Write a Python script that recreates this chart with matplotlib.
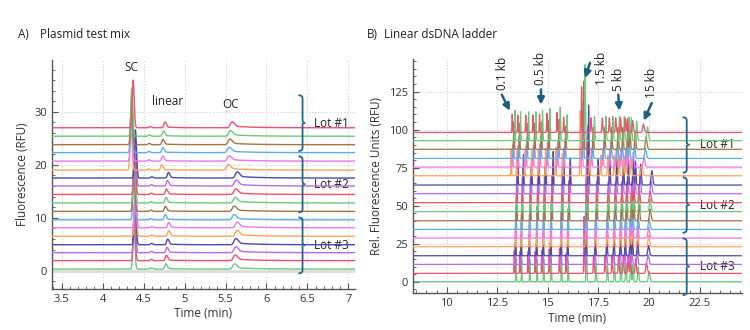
import numpy as np
import matplotlib
matplotlib.use("Agg")
import matplotlib.pyplot as plt
from matplotlib.ticker import MultipleLocator, FuncFormatter
from matplotlib.path import Path
from matplotlib.patches import PathPatch

plt.rcParams['font.family'] = ['Open Sans', 'DejaVu Sans']

# colour cycle of the runs, bottom trace first
PALETTE = ['#6cc97a', '#f0506e', '#b86ae6', '#4b4aa8',
           '#ffa25c', '#f075ee', '#5ab0e4', '#a6743e']
BRACE_COLOR = '#23638c'
ARROW_COLOR = '#1b5e7e'

# ---------------- Panel A: plasmid test mix (18 runs, bottom to top) ----------------
a_baseline = [0.3, 1.9, 3.4, 4.9, 6.5, 8.1, 9.6, 11.2, 12.8,
              14.4, 16.0, 17.5, 19.0, 20.7, 22.3, 23.8, 25.4, 27.0]
a_sc_time = [4.380, 4.385, 4.390, 4.395, 4.400, 4.400, 4.380, 4.380, 4.385,
             4.390, 4.395, 4.400, 4.345, 4.350, 4.350, 4.352, 4.355, 4.372]
a_sc_height = [9.0, 9.2, 8.8, 9.1, 8.9, 9.3, 9.0, 8.7, 9.2,
               9.0, 8.8, 9.1, 8.6, 8.9, 9.0, 9.2, 9.1, 9.0]
a_lin_time = [4.770, 4.777, 4.785, 4.793, 4.806, 4.806, 4.762, 4.765, 4.772,
              4.777, 4.790, 4.802, 4.721, 4.733, 4.733, 4.735, 4.741, 4.761]
a_lin_height = [1.0, 1.0, 1.0, 1.05, 1.05, 1.0, 0.95, 0.95, 1.0,
                1.0, 1.0, 1.05, 1.0, 0.95, 0.95, 1.0, 1.0, 1.1]
a_oc_time = [5.605, 5.612, 5.620, 5.620, 5.637, 5.637, 5.600, 5.600, 5.612,
             5.620, 5.625, 5.637, 5.530, 5.540, 5.540, 5.548, 5.555, 5.575]
a_oc_height = [0.95, 1.0, 1.05, 1.1, 1.05, 1.0, 0.95, 0.95, 1.0,
               1.0, 1.05, 1.1, 1.0, 0.95, 0.95, 1.0, 1.0, 1.05]
a_minor_time = [4.590, 4.592, 4.595, 4.598, 4.600, 4.600, 4.588, 4.588, 4.590,
                4.592, 4.595, 4.600, 4.560, 4.565, 4.565, 4.568, 4.570, 4.580]
a_minor_height = [0.25] * 18

# ---------------- Panel B: linear dsDNA ladder (18 runs, bottom to top) ----------------
b_baseline = [0.0, 5.5, 11.4, 17.1, 23.0, 28.7, 34.4, 40.1, 46.1,
              52.0, 57.9, 63.6, 69.7, 75.4, 81.1, 87.1, 92.8, 98.2]
# ladder fragment migration times of the bottom run
b_ladder_time = [13.43, 13.71, 14.11, 14.47, 14.80, 15.17, 15.68, 16.01, 16.91,
                 17.38, 17.95, 18.30, 18.62, 18.86, 19.10, 19.21, 19.47, 20.01]
b_ladder_rel = [1.0, 0.95, 0.95, 0.95, 1.0, 1.05, 1.1, 0.85, 2.5,
                0.8, 0.8, 0.8, 0.8, 0.8, 0.78, 0.75, 0.65, 0.45]
b_ladder_sigma = [0.012, 0.012, 0.012, 0.012, 0.013, 0.013, 0.014, 0.014, 0.016,
                  0.017, 0.018, 0.018, 0.019, 0.019, 0.020, 0.020, 0.024, 0.035]
# 15 kb migration time of each run (sets the run's time scale)
b_last_time = [20.00, 19.87, 19.95, 19.97, 19.98, 19.98, 20.00, 20.05, 20.05,
               20.05, 20.10, 20.13, 19.64, 19.75, 19.82, 19.85, 19.92, 19.72]
b_run_height = [15, 15, 14, 15, 17, 16, 16, 17, 18,
                17, 18, 21, 17, 15, 15, 18, 20, 12]

b_marker_labels = ['0.1 kb', '0.5 kb', '1.5 kb', '5 kb', '15 kb']
b_marker_text_xy = [(12.77, 137), (14.63, 140), (17.65, 140), (18.50, 133), (20.12, 131)]
b_marker_arrow_from = [(12.72, 123), (14.66, 126.5), (17.08, 144), (18.48, 123), (20.13, 117.5)]
b_marker_arrow_to = [(13.12, 112.5), (14.66, 116.5), (16.84, 134), (18.53, 112.5), (19.74, 106)]

lot_labels = ['Lot #1', 'Lot #2', 'Lot #3']
a_lot_span = [(33.15, 22.6), (21.6, 11.0), (10.05, -0.5)]
b_lot_span = [(108.2, 71.7), (68.7, 32.2), (28.5, -8.8)]


def gauss(t, mu, h, sl, sr):
    s = np.where(t < mu, sl, sr)
    return h * np.exp(-0.5 * ((t - mu) / s) ** 2)


def tailed(t, mu, h, sl, sr, tail_h, tau):
    y = gauss(t, mu, h, sl, sr)
    dt = np.clip(t - mu, 0, None)
    y = y + tail_h * h * (1 - np.exp(-dt / 0.02)) * np.exp(-dt / tau)
    return y


def draw_brace(ax, x, top, bottom, dx, dy, notch):
    mid = 0.5 * (top + bottom)
    verts = [(x - dx, top), (x, top), (x, top - dy),
             (x, mid + dy), (x, mid), (x + notch, mid),
             (x, mid), (x, mid - dy),
             (x, bottom + dy), (x, bottom), (x - dx, bottom)]
    codes = [Path.MOVETO, Path.CURVE3, Path.CURVE3,
             Path.LINETO, Path.CURVE3, Path.CURVE3,
             Path.MOVETO, Path.LINETO,
             Path.LINETO, Path.CURVE3, Path.CURVE3]
    patch = PathPatch(Path(verts, codes), facecolor='none', edgecolor=BRACE_COLOR,
                      lw=1.3, clip_on=False, zorder=30)
    ax.add_patch(patch)
    return mid


def style_axes(ax):
    for side in ('top', 'right'):
        ax.spines[side].set_visible(False)
    for side in ('left', 'bottom'):
        ax.spines[side].set_color('#555555')
        ax.spines[side].set_linewidth(1.0)
    ax.tick_params(which='both', direction='in', colors='#555555',
                   labelcolor='#333333', labelsize=8)
    ax.tick_params(which='major', length=4)
    ax.tick_params(which='minor', length=2)
    ax.grid(True, which='major', linestyle=(0, (1, 2)), color='#c8c8c8', lw=0.7)
    ax.set_axisbelow(True)


fig = plt.figure(figsize=(7.5, 3.3), dpi=100)

# ---------------- Panel A ----------------
axA = fig.add_axes([0.0689, 0.1252, 0.4044, 0.693])
tA = np.linspace(3.3, 7.2, 6000)
axA.axhline(0, color='#dddddd', lw=2.0, zorder=1)
for i in range(len(a_baseline)):
    y = np.full_like(tA, a_baseline[i])
    y += gauss(tA, a_sc_time[i], a_sc_height[i], 0.011, 0.013)
    y += tailed(tA, a_lin_time[i], a_lin_height[i], 0.012, 0.017, 0.12, 0.15)
    y += tailed(tA, a_oc_time[i], a_oc_height[i], 0.018, 0.03, 0.30, 0.25)
    y += gauss(tA, a_minor_time[i], a_minor_height[i], 0.012, 0.015)
    axA.plot(tA, y, color=PALETTE[i % 8], lw=1.0, zorder=2 + i)

axA.set_xlim(3.378, 7.08)
axA.set_ylim(-3.4, 39.8)
axA.xaxis.set_major_locator(MultipleLocator(0.5))
axA.xaxis.set_minor_locator(MultipleLocator(0.1))
axA.yaxis.set_major_locator(MultipleLocator(10))
axA.yaxis.set_minor_locator(MultipleLocator(2))
axA.xaxis.set_major_formatter(FuncFormatter(lambda v, p: f'{v:g}'))
style_axes(axA)
axA.set_xlabel('Time (min)', fontsize=8.5, color='#333333', labelpad=2)
axA.set_ylabel('Fluorescence (RFU)', fontsize=8.5, color='#333333', labelpad=4)

axA.text(4.35, 38.3, 'SC', ha='center', va='center', fontsize=8.5, color='#222222')
axA.text(4.79, 32.0, 'linear', ha='center', va='center', fontsize=8.5, color='#222222')
axA.text(5.56, 31.4, 'OC', ha='center', va='center', fontsize=8.5, color='#222222')

for label, (top, bot) in zip(lot_labels, a_lot_span):
    mid = draw_brace(axA, 6.44, top, bot, 0.05, 0.6, 0.035)
    axA.text(6.58, mid, label, ha='left', va='center', fontsize=8.5, color='#222222')

# ---------------- Panel B ----------------
axB = fig.add_axes([0.5503, 0.1112, 0.4387, 0.7091])
tB = np.linspace(8.2, 24.7, 14000)
for i in range(len(b_baseline)):
    scale = b_last_time[i] / b_ladder_time[-1]
    y = np.full_like(tB, b_baseline[i])
    for mu, rel, sg in zip(b_ladder_time, b_ladder_rel, b_ladder_sigma):
        y += gauss(tB, mu * scale, rel * b_run_height[i], sg, sg * 1.3)
    axB.plot(tB, y, color=PALETTE[i % 8], lw=0.9, zorder=2 + i)

axB.set_xlim(8.32, 24.58)
axB.set_ylim(-7.6, 146.3)
axB.xaxis.set_major_locator(MultipleLocator(2.5))
axB.xaxis.set_minor_locator(MultipleLocator(0.5))
axB.yaxis.set_major_locator(MultipleLocator(25))
axB.yaxis.set_minor_locator(MultipleLocator(5))
axB.xaxis.set_major_formatter(FuncFormatter(lambda v, p: f'{v:g}'))
style_axes(axB)
axB.set_xlabel('Time (min)', fontsize=8.5, color='#333333', labelpad=2)
axB.set_ylabel('Rel. Fluorescence Units (RFU)', fontsize=8.5, color='#333333', labelpad=4)

for label, txy, a0, a1 in zip(b_marker_labels, b_marker_text_xy,
                              b_marker_arrow_from, b_marker_arrow_to):
    axB.text(txy[0], txy[1], label, rotation=90, ha='center', va='center',
             fontsize=8.5, color='#222222', clip_on=False, zorder=40)
    axB.annotate('', xy=a1, xytext=a0, annotation_clip=False, zorder=40,
                 arrowprops=dict(arrowstyle='-|>', color=ARROW_COLOR, lw=1.8,
                                 mutation_scale=10, shrinkA=0, shrinkB=0))

for label, (top, bot) in zip(lot_labels, b_lot_span):
    mid = draw_brace(axB, 21.86, top, bot, 0.2, 2.0, 0.15)
    axB.text(22.5, mid, label, ha='left', va='center', fontsize=8.5, color='#222222')

# panel titles
fig.text(0.024, 0.895, 'A)', ha='left', va='center', fontsize=8.5, color='#222222')
fig.text(0.053, 0.895, 'Plasmid test mix', ha='left', va='center', fontsize=8.5, color='#222222')
fig.text(0.489, 0.895, 'B)', ha='left', va='center', fontsize=8.5, color='#222222')
fig.text(0.512, 0.895, 'Linear dsDNA ladder', ha='left', va='center', fontsize=8.5, color='#222222')

fig.savefig('out.png', dpi=100)
